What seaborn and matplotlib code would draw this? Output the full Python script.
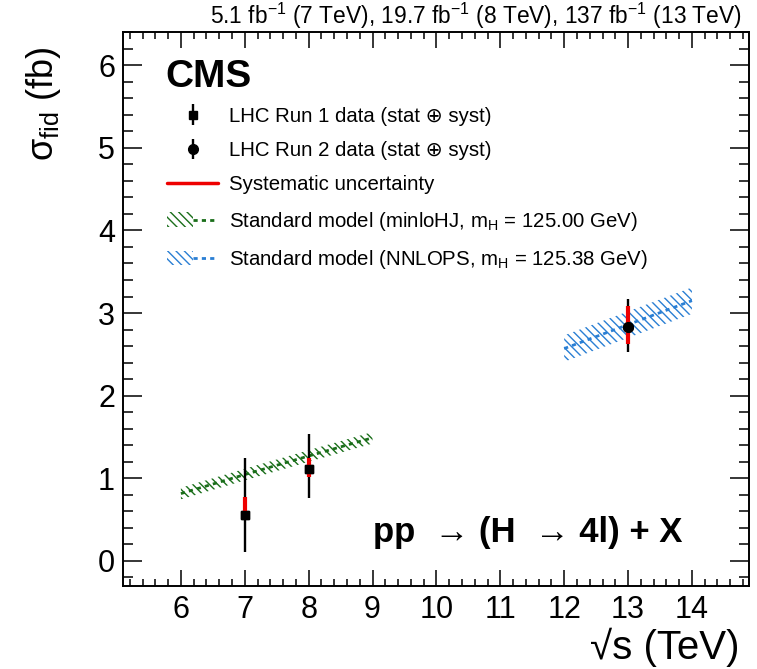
import numpy as np
import pandas as pd
import matplotlib
matplotlib.use("Agg")
import matplotlib.pyplot as plt
import seaborn as sns
from matplotlib.lines import Line2D
from matplotlib.patches import Patch
from matplotlib.legend_handler import HandlerTuple
from matplotlib.ticker import MultipleLocator

# ---- data ----
run1_sqrts = [7, 8]
run1_xs = [0.56, 1.11]
run1_tot_lo = [0.45, 0.35]
run1_tot_hi = [0.69, 0.43]
run1_sys_lo = [0.07, 0.09]
run1_sys_hi = [0.21, 0.13]

run2_sqrts = [13]
run2_xs = [2.83]
run2_tot_lo = [0.30]
run2_tot_hi = [0.34]
run2_sys_lo = [0.20]
run2_sys_hi = [0.26]

minlo_sqrts = [6, 7, 8, 9]
minlo_xs = [0.815, 1.045, 1.27, 1.49]
minlo_unc = [0.07, 0.07, 0.07, 0.07]

nnlops_sqrts = [12, 13, 14]
nnlops_xs = [2.57, 2.86, 3.15]
nnlops_unc = [0.16, 0.16, 0.16]

labels = [
    "LHC Run 1 data (stat \u2295 syst)",
    "LHC Run 2 data (stat \u2295 syst)",
    "Systematic uncertainty",
    "Standard model (minloHJ, m$_{\\mathrm{H}}$ = 125.00 GeV)",
    "Standard model (NNLOPS, m$_{\\mathrm{H}}$ = 125.38 GeV)",
]

sns.set_theme(style="ticks")
plt.rcParams['font.family'] = ['Liberation Sans', 'DejaVu Sans']
plt.rcParams['mathtext.fontset'] = 'custom'
plt.rcParams['mathtext.rm'] = 'Liberation Sans'
plt.rcParams['mathtext.it'] = 'Liberation Sans:italic'
plt.rcParams['mathtext.bf'] = 'Liberation Sans:bold'
plt.rcParams['hatch.linewidth'] = 1.0
for k in ['text.color', 'axes.labelcolor', 'xtick.color', 'ytick.color', 'axes.edgecolor']:
    plt.rcParams[k] = 'black'

green = "#1a6e1a"
blue = "#2a7fd4"
red = "#ee0000"

fig = plt.figure(figsize=(7.57, 6.69), dpi=100)
ax = fig.add_axes([0.163, 0.1245, 0.827, 0.8275])

# SM bands
mdf = pd.DataFrame({"sqrts": minlo_sqrts, "xs": minlo_xs, "unc": minlo_unc})
ndf = pd.DataFrame({"sqrts": nnlops_sqrts, "xs": nnlops_xs, "unc": nnlops_unc})
for df, col in [(mdf, green), (ndf, blue)]:
    ax.fill_between(df["sqrts"], df["xs"] - df["unc"], df["xs"] + df["unc"],
                    facecolor="none", edgecolor=col, hatch="\\\\\\\\", linewidth=0, zorder=1)
    sns.lineplot(data=df, x="sqrts", y="xs", ax=ax, color=col, linewidth=2.0,
                 linestyle=(0, (1.5, 1.5)), zorder=1.5, legend=False)

# data points
h1 = ax.errorbar(run1_sqrts, run1_xs, yerr=[run1_tot_lo, run1_tot_hi], fmt="s",
                 color="black", ecolor="black", markersize=6, elinewidth=1.7, capsize=0, zorder=2)
h2 = ax.errorbar(run2_sqrts, run2_xs, yerr=[run2_tot_lo, run2_tot_hi], fmt="o",
                 color="black", ecolor="black", markersize=7, elinewidth=1.7, capsize=0, zorder=2)
ax.errorbar(run1_sqrts, run1_xs, yerr=[run1_sys_lo, run1_sys_hi], fmt="none",
            ecolor=red, elinewidth=3.0, capsize=0, zorder=3)
ax.errorbar(run2_sqrts, run2_xs, yerr=[run2_sys_lo, run2_sys_hi], fmt="none",
            ecolor=red, elinewidth=3.0, capsize=0, zorder=3)
ax.plot(run1_sqrts, run1_xs, "s", color="black", markersize=6, zorder=4)
ax.plot(run2_sqrts, run2_xs, "o", color="black", markersize=7, zorder=4)

# axes
ax.set_xlim(5.1, 14.9)
ax.set_ylim(-0.3, 6.4)
ax.xaxis.set_major_locator(MultipleLocator(1))
ax.xaxis.set_minor_locator(MultipleLocator(0.2))
ax.yaxis.set_major_locator(MultipleLocator(1))
ax.yaxis.set_minor_locator(MultipleLocator(0.2))
ax.set_xticks([6, 7, 8, 9, 10, 11, 12, 13, 14])
ax.tick_params(axis="both", which="both", direction="in", top=True, right=True,
               width=1.1, color="black")
ax.tick_params(axis="x", which="major", length=11.5, labelsize=22, pad=7)
ax.tick_params(axis="x", which="minor", length=5)
ax.tick_params(axis="y", which="major", length=14, labelsize=22, pad=6)
ax.tick_params(axis="y", which="minor", length=7)
for s in ax.spines.values():
    s.set_linewidth(1.4)
    s.set_color("black")
ax.set_xlabel("")
ax.set_ylabel("")

fig.text(0.977, 0.032, "\u221as (TeV)", ha="right", va="center", fontsize=29)
fig.text(0.058, 0.93, "\u03c3$_{\\mathrm{fid}}$ (fb)", ha="center", va="top",
         rotation=90, fontsize=26)
fig.text(0.980, 0.964, "5.1 fb$^{-1}$ (7 TeV), 19.7 fb$^{-1}$ (8 TeV), 137 fb$^{-1}$ (13 TeV)",
         ha="right", va="baseline", fontsize=16.4)
ax.text(0.067, 0.900, "CMS", transform=ax.transAxes, fontsize=28, fontweight="bold",
        ha="left", va="baseline")
ax.text(0.8925, 0.0795, "pp  \u2192 (H  \u2192 4l) + X", transform=ax.transAxes,
        fontsize=25, fontweight="bold", ha="right", va="baseline")

# legend
syst_h = Line2D([], [], color=red, linewidth=2.5)
g_h = (Patch(facecolor="none", edgecolor=green, hatch="\\\\\\\\", linewidth=0),
       Line2D([], [], color=green, linewidth=2.0, linestyle=(0, (1.5, 1.5))))
b_h = (Patch(facecolor="none", edgecolor=blue, hatch="\\\\\\\\", linewidth=0),
       Line2D([], [], color=blue, linewidth=2.0, linestyle=(0, (1.5, 1.5))))
leg = ax.legend([h1, h2, syst_h, g_h, b_h], labels,
                handler_map={tuple: HandlerTuple(ndivide=None, pad=0)},
                loc="upper left", bbox_to_anchor=(0.07, 0.865), frameon=False,
                fontsize=14.7, handlelength=2.5, handletextpad=0.54, labelspacing=0.75,
                borderpad=0, borderaxespad=0)

fig.savefig("out.png", dpi=100)
